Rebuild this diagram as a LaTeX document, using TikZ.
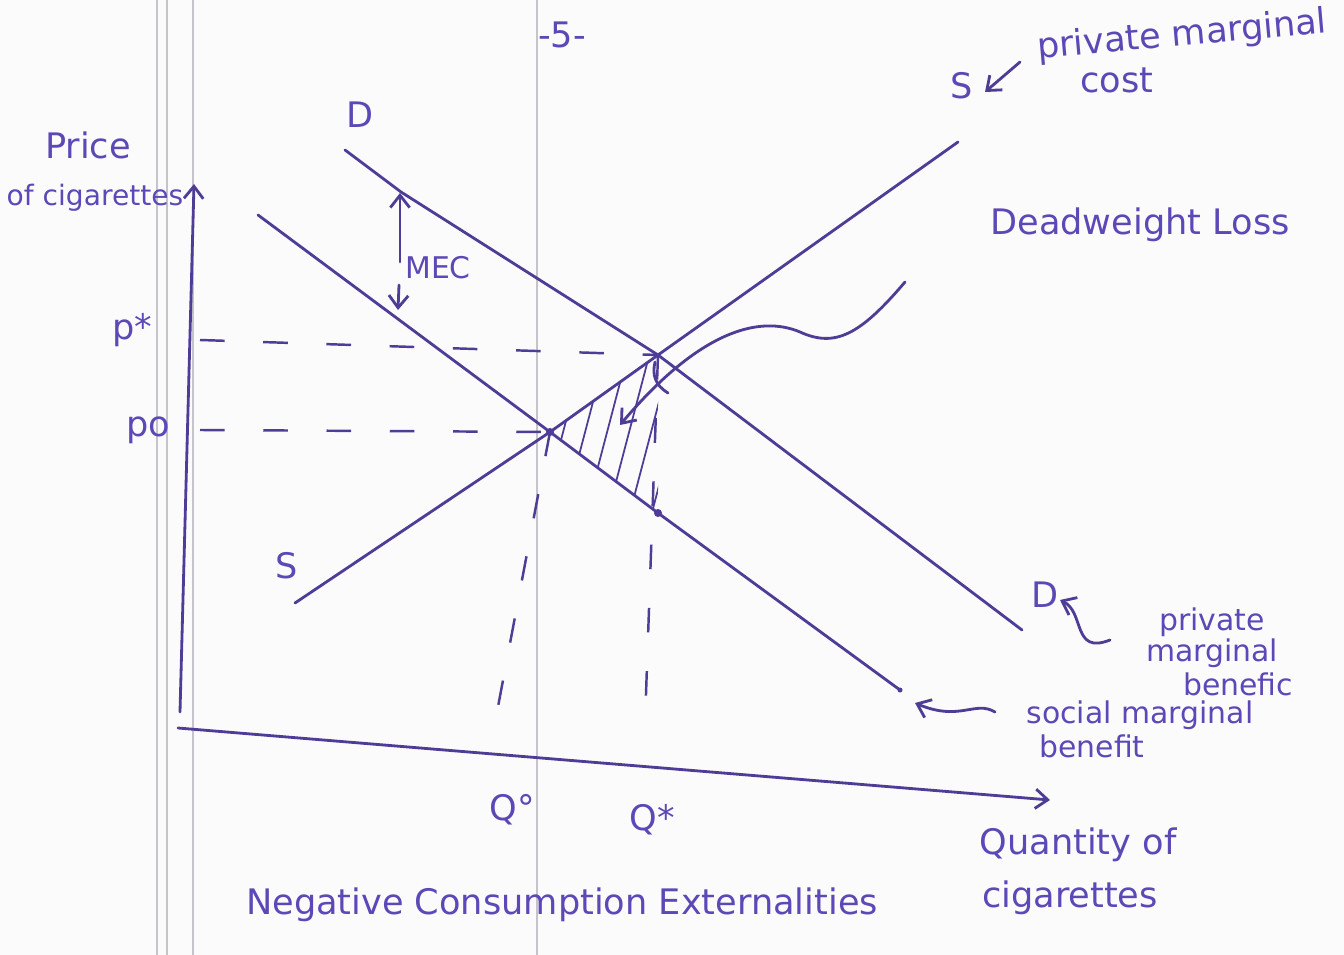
\documentclass[tikz,border=0pt]{standalone}
\usepackage{fontspec}
\setmainfont{DejaVu Sans}
\usetikzlibrary{arrows.meta,positioning}
\definecolor{inkBlue}{RGB}{92, 72, 182}
\definecolor{lineInk}{RGB}{78, 60, 150}
\definecolor{paperGray}{RGB}{196, 196, 202}

\tikzset{
  curve/.style={lineInk, line width=1.6pt, line cap=round},
  guide/.style={lineInk, line width=1.4pt, dash pattern=on 14pt off 22pt},
  hand/.style={text=inkBlue, font=\fontsize{20}{24}\selectfont, inner sep=1pt},
  handsmall/.style={text=inkBlue, font=\fontsize{17}{20}\selectfont, inner sep=0pt},
  tip/.style={-{Straight Barb[length=7pt, width=11pt]}}
}

\begin{document}
\begin{tikzpicture}[x=0.02cm, y=-0.02cm]
\useasboundingbox (0,0) rectangle (1344,955);
\fill[white!97!gray] (0,0) rectangle (1344,955);
% ruled margins of the page
\foreach \xm in {157,167,193,537}
  \draw[paperGray, line width=0.8pt] (\xm,0) -- (\xm,955);

% points of the diagram
\coordinate (origin) at (180,712);
\coordinate (yTop) at (194,184);
\coordinate (xStart) at (178,728);
\coordinate (xEnd) at (1050,800);
\coordinate (dTop) at (345,150);
\coordinate (dEnd) at (1022,630);
\coordinate (smbTop) at (258,215);
\coordinate (smbEnd) at (900,690);
\coordinate (sLow) at (295,603);
\coordinate (sHigh) at (958,142);
\coordinate (eStar) at (658,355);
\coordinate (eZero) at (550,432);
\coordinate (dotQ) at (658,513);

% axes
\draw[curve, tip] (origin) -- (yTop);
\draw[curve, tip] (xStart) -- (xEnd);

% deadweight loss hatching
\begin{scope}
  \clip (eZero) -- (eStar) -- (dotQ) -- cycle;
  \foreach \hx in {540,562,...,680}
    \draw[lineInk, line width=1pt] (\hx,520) -- (\hx+42,360);
\end{scope}

% curves
\draw[curve] (dTop) -- (401,192) -- (eStar) -- (dEnd);
\draw[curve] (smbTop) -- (eZero) -- (dotQ) -- (smbEnd);
\draw[curve] (sLow) -- (eZero) -- (eStar) -- (sHigh);
\fill[lineInk] (dotQ) circle (4);
\fill[lineInk] (smbEnd) circle (2.5);
\fill[lineInk] (eZero) circle (4);
\draw[curve] (655,362) .. controls (652,375) and (655,385) .. (668,393);

% dashed guides
\draw[guide] (200,340) -- (eStar);
\draw[guide] (200,430) -- (eZero);
\draw[guide] (eZero) -- (497,712);
\draw[guide] (eStar) -- (645,722);

% MEC gap
\draw[curve, tip] (400,262) -- (400,193);
\draw[curve, tip] (399,285) -- (398,310);

% labels
\node[hand] (dTopLabel) at (360,115) {D};
\node[handsmall] (mecLabel) at (438,268) {MEC};
\node[hand] (sLowLabel) at (287,566) {S};
\node[hand] (sHighLabel) at (962,86) {S};
\node[hand, rotate=5] (pmcLabel) at (1182,36) {private marginal};
\node[hand] (costLabel) at (1117,80) {cost};
\node[hand] (dwlLabel) at (1140,225) {Deadweight Loss};
\node[hand] (priceLabel) at (88,145) {Price};
\node[handsmall, font=\fontsize{16}{18}\selectfont] (ofCigLabel) at (95,198) {of cigarettes};
\node[hand] (pStarLabel) at (132,330) {p*};
\node[hand] (pZeroLabel) at (148,430) {po};
\node[hand] (qZeroLabel) at (512,810) {Q°};
\node[hand] (qStarLabel) at (652,820) {Q*};
\node[hand] (qtyLabel) at (1078,845) {Quantity of};
\node[hand] (cigLabel) at (1070,898) {cigarettes};
\node[hand] (titleLabel) at (562,905) {Negative Consumption Externalities};
\node[hand] (pageLabel) at (562,35) {-5-};
\node[hand] (dLowLabel) at (1045,595) {D};
\node[handsmall] (pmbLabelA) at (1212,622) {private};
\node[handsmall] (pmbLabelB) at (1212,653) {marginal};
\node[handsmall] (pmbLabelC) at (1238,684) {benefic};
\node[handsmall] (smbLabelA) at (1140,715) {social marginal};
\node[handsmall] (smbLabelB) at (1092,746) {benefit};

% pointers
\draw[curve, tip] (1020,62) -- (985,92);
\draw[curve, tip] (905,282) .. controls (860,335) and (835,348) .. (800,332)
  .. controls (760,315) and (700,330) .. (620,425);
\draw[curve, tip] (1110,640) .. controls (1072,655) and (1085,612) .. (1060,600);
\draw[curve, tip] (995,712) .. controls (975,700) and (960,722) .. (915,703);
\end{tikzpicture}
\end{document}
